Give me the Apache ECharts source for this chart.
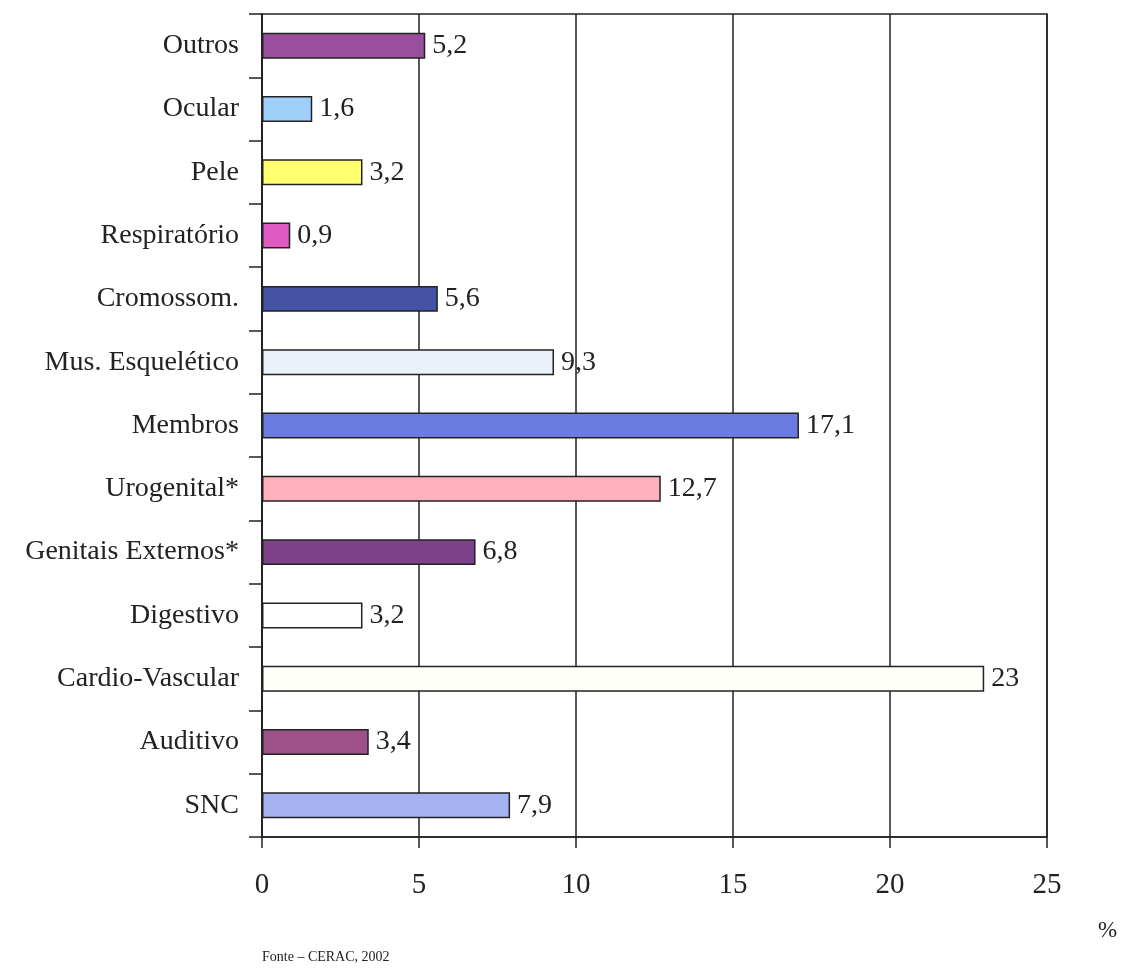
<meta charset="UTF-8">
<script src="https://cdn.jsdelivr.net/npm/echarts@6/dist/echarts.min.js"></script>
<style>body{margin:0;background:#fff}</style>
<div id="main" style="width: 1123px; height: 970px;"></div>
<script>
    // categories listed top to bottom
    var categorias = ['Outros', 'Ocular', 'Pele', 'Respiratório', 'Cromossom.', 'Mus. Esquelético',
        'Membros', 'Urogenital*', 'Genitais Externos*', 'Digestivo', 'Cardio-Vascular', 'Auditivo', 'SNC'];
    var valores = [5.2, 1.6, 3.2, 0.9, 5.6, 9.3, 17.1, 12.7, 6.8, 3.2, 23, 3.4, 7.9];
    var cores = ['#9a4f9e', '#9fd0fa', '#ffff70', '#e05ac4', '#4453a3', '#eaf1fb',
        '#6b7be0', '#ffb2bd', '#7c4189', '#ffffff', '#fffffa', '#9c5289', '#a7b2f0'];
    var xTicks = [0, 5, 10, 15, 20, 25];

    var serif = 'Liberation Serif';
    var mychart = echarts.init(document.getElementById('main'));

    var dados = [];
    for (var i = 0; i < valores.length; i++) {
        dados.push({ value: valores[i], itemStyle: { color: cores[i] } });
    }

    option = {
        animation: false,
        backgroundColor: '#fff',
        grid: {
            left: 262,
            right: 76,
            top: 14,
            bottom: 133,
            show: true,
            borderColor: '#222',
            borderWidth: 1.5
        },
        xAxis: {
            type: 'value',
            min: xTicks[0],
            max: xTicks[xTicks.length - 1],
            interval: 5,
            axisLine: { show: true, lineStyle: { color: '#222', width: 1.5 } },
            axisTick: { show: true, length: 11, lineStyle: { color: '#222', width: 1.5 } },
            splitLine: { show: true, lineStyle: { color: '#222', width: 1.5 } },
            axisLabel: { fontFamily: serif, fontSize: 29, color: '#222', margin: 34 }
        },
        yAxis: {
            type: 'category',
            inverse: true,
            data: categorias,
            axisLine: { show: true, lineStyle: { color: '#222', width: 1.5 } },
            axisTick: { show: true, length: 13, lineStyle: { color: '#222', width: 1.5 } },
            axisLabel: { fontFamily: serif, fontSize: 28, color: '#222', margin: 23 }
        },
        series: [
            {
                type: 'bar',
                data: dados,
                barWidth: '41%',
                itemStyle: { borderColor: '#222', borderWidth: 1.5 },
                label: {
                    show: true,
                    position: 'right',
                    distance: 7,
                    fontFamily: serif,
                    fontSize: 28,
                    color: '#222',
                    formatter: function (p) { return String(p.value).replace('.', ','); }
                }
            }
        ],
        graphic: [
            {
                type: 'text', left: 1098, top: 919,
                style: { text: '%', fontFamily: serif, fontSize: 23, fill: '#222' }
            },
            {
                type: 'text', left: 262, top: 950,
                style: { text: 'Fonte – CERAC, 2002', fontFamily: serif, fontSize: 14, fill: '#222' }
            }
        ]
    };
    mychart.setOption(option);
</script>
